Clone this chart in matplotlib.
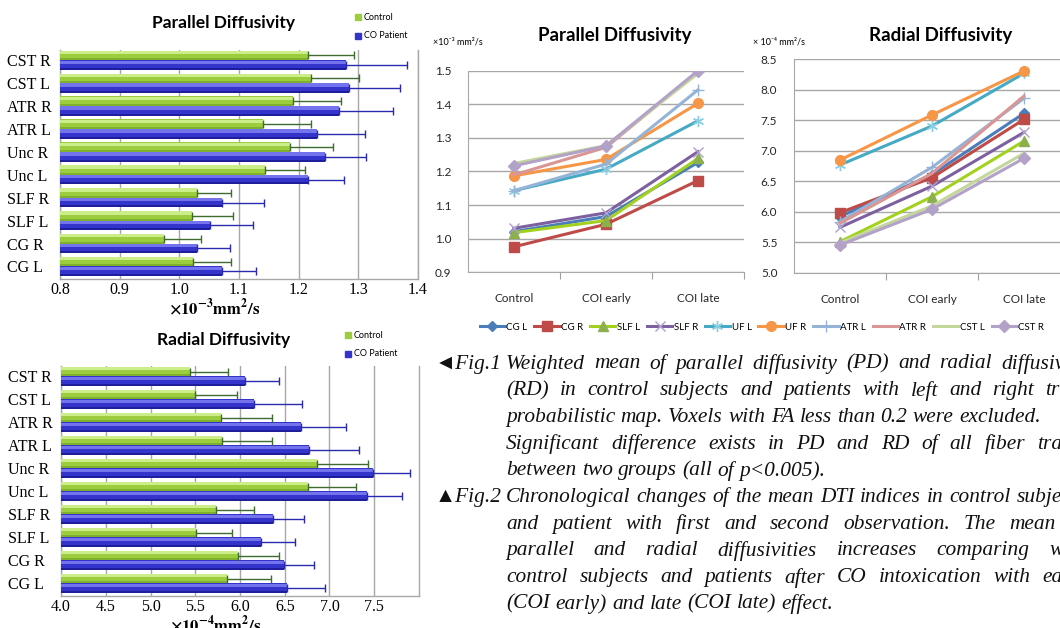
import matplotlib
matplotlib.use("Agg")
import matplotlib.pyplot as plt
import numpy as np

plt.rcParams['mathtext.fontset'] = 'stix'

# ---------------- data ----------------
tracts = ["CG L", "CG R", "SLF L", "SLF R", "Unc L", "Unc R", "ATR L", "ATR R", "CST L", "CST R"]
group_names = ["Control", "CO Patient"]

pd_control = [1.023, 0.975, 1.022, 1.029, 1.144, 1.186, 1.140, 1.190, 1.221, 1.215]
pd_control_err = [0.064, 0.061, 0.068, 0.058, 0.066, 0.072, 0.080, 0.081, 0.080, 0.077]
pd_patient = [1.071, 1.029, 1.052, 1.072, 1.216, 1.244, 1.230, 1.267, 1.284, 1.280]
pd_patient_err = [0.057, 0.056, 0.071, 0.070, 0.060, 0.069, 0.082, 0.091, 0.085, 0.102]

rd_control = [5.856, 5.978, 5.511, 5.737, 6.765, 6.855, 5.797, 5.789, 5.492, 5.444]
rd_control_err = [0.486, 0.453, 0.397, 0.416, 0.535, 0.575, 0.560, 0.568, 0.472, 0.419]
rd_patient = [6.520, 6.494, 6.231, 6.372, 7.422, 7.486, 6.773, 6.684, 6.160, 6.060]
rd_patient_err = [0.427, 0.338, 0.386, 0.338, 0.383, 0.412, 0.560, 0.497, 0.531, 0.371]

stages = ["Control", "COI early", "COI late"]
series_names = ["CG L", "CG R", "SLF L", "SLF R", "UF L", "UF R", "ATR L", "ATR R", "CST L", "CST R"]
pd_lines = {
    "CG L":  [1.021, 1.066, 1.227],
    "CG R":  [0.976, 1.043, 1.173],
    "SLF L": [1.018, 1.054, 1.239],
    "SLF R": [1.031, 1.077, 1.259],
    "UF L":  [1.143, 1.207, 1.351],
    "UF R":  [1.187, 1.236, 1.403],
    "ATR L": [1.143, 1.222, 1.443],
    "ATR R": [1.190, 1.272, 1.497],
    "CST L": [1.224, 1.277, 1.492],
    "CST R": [1.217, 1.276, 1.500],
}
rd_lines = {
    "CG L":  [5.919, 6.610, 7.614],
    "CG R":  [5.984, 6.559, 7.515],
    "SLF L": [5.509, 6.247, 7.160],
    "SLF R": [5.744, 6.420, 7.302],
    "UF L":  [6.767, 7.406, 8.270],
    "UF R":  [6.848, 7.587, 8.309],
    "ATR L": [5.837, 6.728, 7.860],
    "ATR R": [5.810, 6.630, 7.898],
    "CST L": [5.490, 6.094, 6.958],
    "CST R": [5.454, 6.040, 6.876],
}

caption1 = [
    ("\u25C4Fig.1", "Weighted mean of parallel diffusivity (PD) and radial diffusivity", True),
    (None, "(RD) in control subjects and patients with left and right tract", True),
    (None, "probabilistic map. Voxels with FA less than 0.2 were excluded.", False),
    (None, "Significant difference exists in PD and RD of all fiber tracts", True),
    (None, "between two groups (all of p<0.005).", False),
    ("\u25B2Fig.2", "Chronological changes of the mean DTI indices in control subjects", True),
    (None, "and patient with first and second observation. The mean of", True),
    (None, "parallel and radial diffusivities increases comparing with", True),
    (None, "control subjects and patients after CO intoxication with early", True),
    (None, "(COI early) and late (COI late) effect.", False),
]

# ---------------- figure ----------------
W, H = 1060, 628
fig = plt.figure(figsize=(W / 100, H / 100), dpi=100)
fig.patch.set_facecolor("white")


def fr(l, t, r, b):
    return [l / W, (H - b) / H, (r - l) / W, (b - t) / H]


green_cols = ("#7EB02E", "#9CCD3E", "#CBEE8A")
blue_cols = ("#1E1E9A", "#3434CC", "#7373EE")


def bar3d(ax, y, vals, h, cols):
    ax.barh(y, vals, height=h, color=cols[0], edgecolor="none", zorder=3)
    ax.barh(y + h * 0.1, vals, height=h * 0.8, color=cols[1], edgecolor="none", zorder=3)
    ax.barh(y + h * 0.3, vals, height=h * 0.35, color=cols[2], edgecolor="none", zorder=3)


def bar_chart(rect, ctrl, ctrl_err, pat, pat_err, xlim, xticks, title, xlabel, title_x, title_y, leg_x, leg_y):
    ax = fig.add_axes(fr(*rect))
    y = np.arange(len(tracts))
    h = 0.42
    base = xlim[0]
    c = np.array(ctrl) - base
    p = np.array(pat) - base
    bar3d(ax, y + h / 2, c, h, green_cols)
    bar3d(ax, y - h / 2, p, h, blue_cols)
    ax.errorbar(c, y + h / 2, xerr=[np.zeros(len(y)), ctrl_err], fmt="none",
                ecolor="#3E6B2E", elinewidth=1.0, capsize=3, capthick=1.0, zorder=4)
    ax.errorbar(p, y - h / 2, xerr=[np.zeros(len(y)), pat_err], fmt="none",
                ecolor="#2A2AB0", elinewidth=1.0, capsize=3, capthick=1.0, zorder=4)
    ax.set_xlim(0, xlim[1] - base)
    ax.set_ylim(-0.55, 9.45)
    ax.set_xticks(np.array(xticks) - base)
    ax.set_xticklabels(["%.1f" % v for v in xticks], family="Liberation Serif", fontsize=11.5)
    ax.set_yticks(y)
    ax.set_yticklabels(tracts, family="Liberation Serif", fontsize=11.5)
    for lab in ax.get_yticklabels():
        lab.set_ha("left")
    ax.tick_params(axis="y", length=0, pad=38)
    ax.tick_params(axis="x", length=0, pad=2)
    ax.grid(axis="x", color="#A8A8A8", lw=1.0, zorder=0)
    ax.spines["top"].set_visible(False)
    for s in ["left", "bottom", "right"]:
        ax.spines[s].set_color("#A8A8A8")
        ax.spines[s].set_linewidth(1.0)
    ax.set_xlabel(xlabel, fontsize=12, labelpad=0, x=0.432)
    fig.text(title_x / W, 1 - title_y / H, title, family="Lato",
             fontweight="bold", fontsize=12.5, ha="center", va="center")
    # legend
    for i, (name, col) in enumerate(zip(group_names, [green_cols[1], blue_cols[1]])):
        yy = leg_y + i * 19
        fig.patches.append(plt.Rectangle(((leg_x) / W, 1 - (yy + 3) / H), 6 / W, 6 / H,
                                         transform=fig.transFigure, color=col))
        fig.text((leg_x + 9) / W, 1 - yy / H, name, family="Lato", fontsize=6.5, va="center")
    return ax


bar_chart((60, 50, 418, 279), pd_control, pd_control_err, pd_patient, pd_patient_err,
          (0.8, 1.4), [0.8, 0.9, 1.0, 1.1, 1.2, 1.3, 1.4], "Parallel Diffusivity",
          r"$\mathbf{\times 10^{-3}mm^{2}/s}$", 223, 23, 355, 17)
bar_chart((61, 366, 419, 596), rd_control, rd_control_err, rd_patient, rd_patient_err,
          (4.0, 8.0), [4.0, 4.5, 5.0, 5.5, 6.0, 6.5, 7.0, 7.5], "Radial Diffusivity",
          r"$\mathbf{\times 10^{-4}mm^{2}/s}$", 224, 340, 345, 335)

# ---------------- line charts ----------------
styles = {
    "CG L":  dict(color="#4A7EBB", marker="D", ms=5, mfc="#4A7EBB"),
    "CG R":  dict(color="#BE4B48", marker="s", ms=7, mfc="#BE4B48"),
    "SLF L": dict(color="#A2D11E", marker="^", ms=7, mfc="#8DB04E", mec="#8DB04E"),
    "SLF R": dict(color="#7D60A0", marker="x", ms=7, mfc="#B0A0CC", mec="#B0A0CC"),
    "UF L":  dict(color="#46AAC5", marker=(6, 2, 0), ms=8, mec="#8CCFE0"),
    "UF R":  dict(color="#F79646", marker="o", ms=7, mfc="#F79646"),
    "ATR L": dict(color="#95B3D7", marker="+", ms=8, mec="#95B3D7"),
    "ATR R": dict(color="#D99694", marker=None),
    "CST L": dict(color="#C3D69B", marker=None),
    "CST R": dict(color="#B3A2C7", marker="D", ms=6, mfc="#B3A2C7"),
}


def line_chart(rect, data, ylim, yticks, title, unit, title_x, unit_x):
    ax = fig.add_axes(fr(*rect))
    x = np.arange(len(stages))
    handles = []
    for name in series_names:
        st = dict(styles[name])
        hnd, = ax.plot(x, data[name], lw=2.2, label=name, zorder=3, **st)
        handles.append(hnd)
    ax.set_xlim(-0.5, 2.5)
    ax.set_ylim(*ylim)
    ax.set_yticks(yticks)
    ax.set_yticklabels(["%.1f" % v for v in yticks], family="Lato", fontsize=8.5, color="#262626")
    ax.set_xticks([0.5, 1.5, 2.5])
    ax.set_xticklabels([])
    ax.set_xticks(x, minor=True)
    ax.set_xticklabels(stages, minor=True, family="Lato", fontsize=8.5, color="#262626")
    ax.tick_params(axis="x", which="major", length=5, color="#A0A0A0", direction="out")
    ax.tick_params(axis="x", which="minor", length=0, pad=15)
    ax.tick_params(axis="y", length=0, pad=12)
    ax.grid(axis="y", color="#A8A8A8", lw=1.0, zorder=0)
    ax.spines["top"].set_visible(False)
    ax.spines["right"].set_visible(False)
    ax.spines["left"].set_color("#A8A8A8")
    ax.spines["bottom"].set_color("#A8A8A8")
    fig.text(title_x / W, 1 - 35 / H, title, family="Lato", fontweight="bold",
             fontsize=13.5, ha="center", va="center")
    fig.text(unit_x / W, 1 - 42 / H, unit, family=["Lato", "DejaVu Sans"], fontsize=6.5,
             ha="left", va="center")
    return ax, handles


ax3, handles = line_chart((468, 70.7, 744, 272.3), pd_lines, (0.9, 1.5),
                          [0.9, 1.0, 1.1, 1.2, 1.3, 1.4, 1.5], "Parallel Diffusivity",
                          "\u00d710\u207b\u00b3 mm\u00b2/s", 615, 433)
ax4, _ = line_chart((794, 59.3, 1070, 272.7), rd_lines, (5.0, 8.5),
                    [5.0, 5.5, 6.0, 6.5, 7.0, 7.5, 8.0, 8.5], "Radial Diffusivity",
                    "\u00d7 10\u207b\u2074 mm\u00b2/s", 941, 753)

fig.legend(handles=handles, labels=series_names, loc="center", ncol=10,
           bbox_to_anchor=(762 / W, 1 - 327 / H), frameon=False,
           prop=dict(family="Lato", size=7), handlelength=2.6, handletextpad=0.15,
           columnspacing=0.7, borderaxespad=0)

# ---------------- caption ----------------
fig.canvas.draw()
renderer = fig.canvas.get_renderer()
cap_kw = dict(family=["Liberation Serif", "DejaVu Serif"], style="italic", fontsize=15.4,
              va="center", color="#111111")


def tw(s):
    t = fig.text(0, 0, s, **cap_kw)
    w = t.get_window_extent(renderer).width
    t.remove()
    return w


space_w = tw("a a") - tw("aa")
x_indent, x_right = 506, 1086
y0, dy = 364, 26.7
for i, (prefix, line, just) in enumerate(caption1):
    yy = 1 - (y0 + i * dy) / H
    if prefix:
        fig.text(435 / W, yy, prefix, **cap_kw)
    words = line.split(" ")
    widths = [tw(w) for w in words]
    if just and len(words) > 1:
        gap = max((x_right - x_indent - sum(widths)) / (len(words) - 1), space_w * 0.8)
    else:
        gap = space_w
    xx = x_indent
    for w, wd in zip(words, widths):
        fig.text(xx / W, yy, w, **cap_kw)
        xx += wd + gap

fig.savefig("out.png", dpi=100)
